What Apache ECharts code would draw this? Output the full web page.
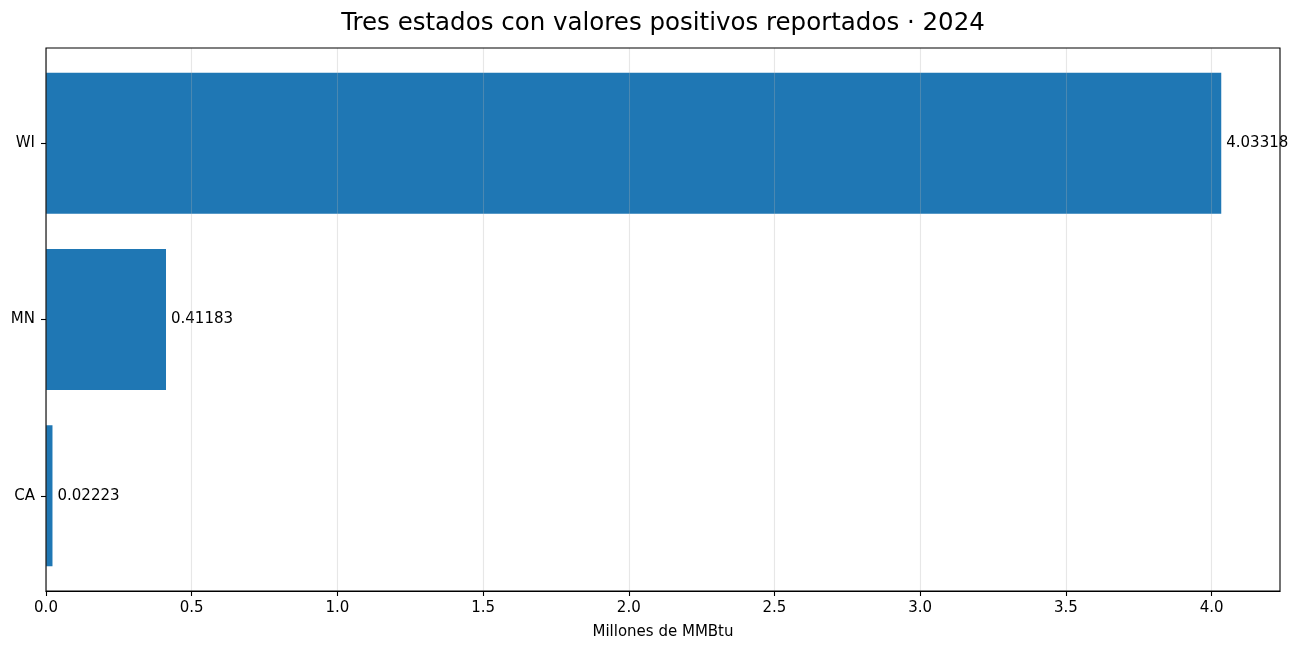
<!DOCTYPE html>
<html>
<head>
<meta charset="utf-8">
<script src="https://cdn.jsdelivr.net/npm/echarts@6/dist/echarts.min.js"></script>
<style>
  html, body { margin: 0; padding: 0; background: #fff; }
  #chart { width: 1298px; height: 649px; }
</style>
</head>
<body>
<div id="chart"></div>
<script>
// datos
var states = ['CA', 'MN', 'WI'];
var values = [0.02223, 0.41183, 4.03318];
var xTicks = [0, 0.5, 1.0, 1.5, 2.0, 2.5, 3.0, 3.5, 4.0];

var xMax = 4.2348;
var font = 'DejaVu Sans';

var chart = echarts.init(document.getElementById('chart'));

var option = {
    backgroundColor: '#fff',
    animation: false,
    textStyle: { fontFamily: font },
    title: {
        text: 'Tres estados con valores positivos reportados · 2024',
        left: 658,
        textAlign: 'center',
        top: 6,
        textStyle: { fontFamily: font, fontSize: 24.5, fontWeight: 'normal', color: '#000' }
    },
    grid: [
        // marco
        { left: 46, right: 18, top: 48, bottom: 58, show: true, borderColor: '#000', borderWidth: 1.1, backgroundColor: 'transparent', z: 5 },
        // barras
        { left: 46, right: 18, top: 55, bottom: 65 }
    ],
    xAxis: [
        {
            gridIndex: 0, type: 'value', min: 0, max: xMax, z: 4,
            name: 'Millones de MMBtu', nameLocation: 'middle', nameGap: 34,
            nameTextStyle: { fontFamily: font, fontSize: 15, color: '#000' },
            axisLine: { show: true, lineStyle: { color: '#000', width: 1.1 } },
            axisTick: { show: true, length: 5, lineStyle: { color: '#000', width: 1.1 }, customValues: xTicks },
            axisLabel: {
                fontFamily: font, fontSize: 15, color: '#000', margin: 10,
                customValues: xTicks,
                formatter: function (v) { return v.toFixed(1); }
            },
            splitLine: { show: true, lineStyle: { color: 'rgba(176,176,176,0.3)', width: 1.1 } }
        },
        { gridIndex: 1, type: 'value', min: 0, max: xMax, show: false }
    ],
    yAxis: [
        { gridIndex: 0, type: 'value', min: 0, max: 1, show: false },
        {
            gridIndex: 1, type: 'category', data: states,
            axisLine: { show: false },
            axisTick: { show: true, alignWithLabel: true, length: 5, lineStyle: { color: '#000', width: 1.1 } },
            axisLabel: { fontFamily: font, fontSize: 15, color: '#000', margin: 11 },
            splitLine: { show: false }
        }
    ],
    series: [{
        type: 'bar',
        xAxisIndex: 1,
        yAxisIndex: 1,
        data: values,
        barCategoryGap: '20%',
        itemStyle: { color: '#1f77b4' },
        z: 2,
        label: {
            show: true, position: 'right', distance: 5,
            fontFamily: font, fontSize: 15, color: '#000',
            formatter: function (p) { return String(p.value); }
        }
    }]
};

chart.setOption(option);
</script>
</body>
</html>
